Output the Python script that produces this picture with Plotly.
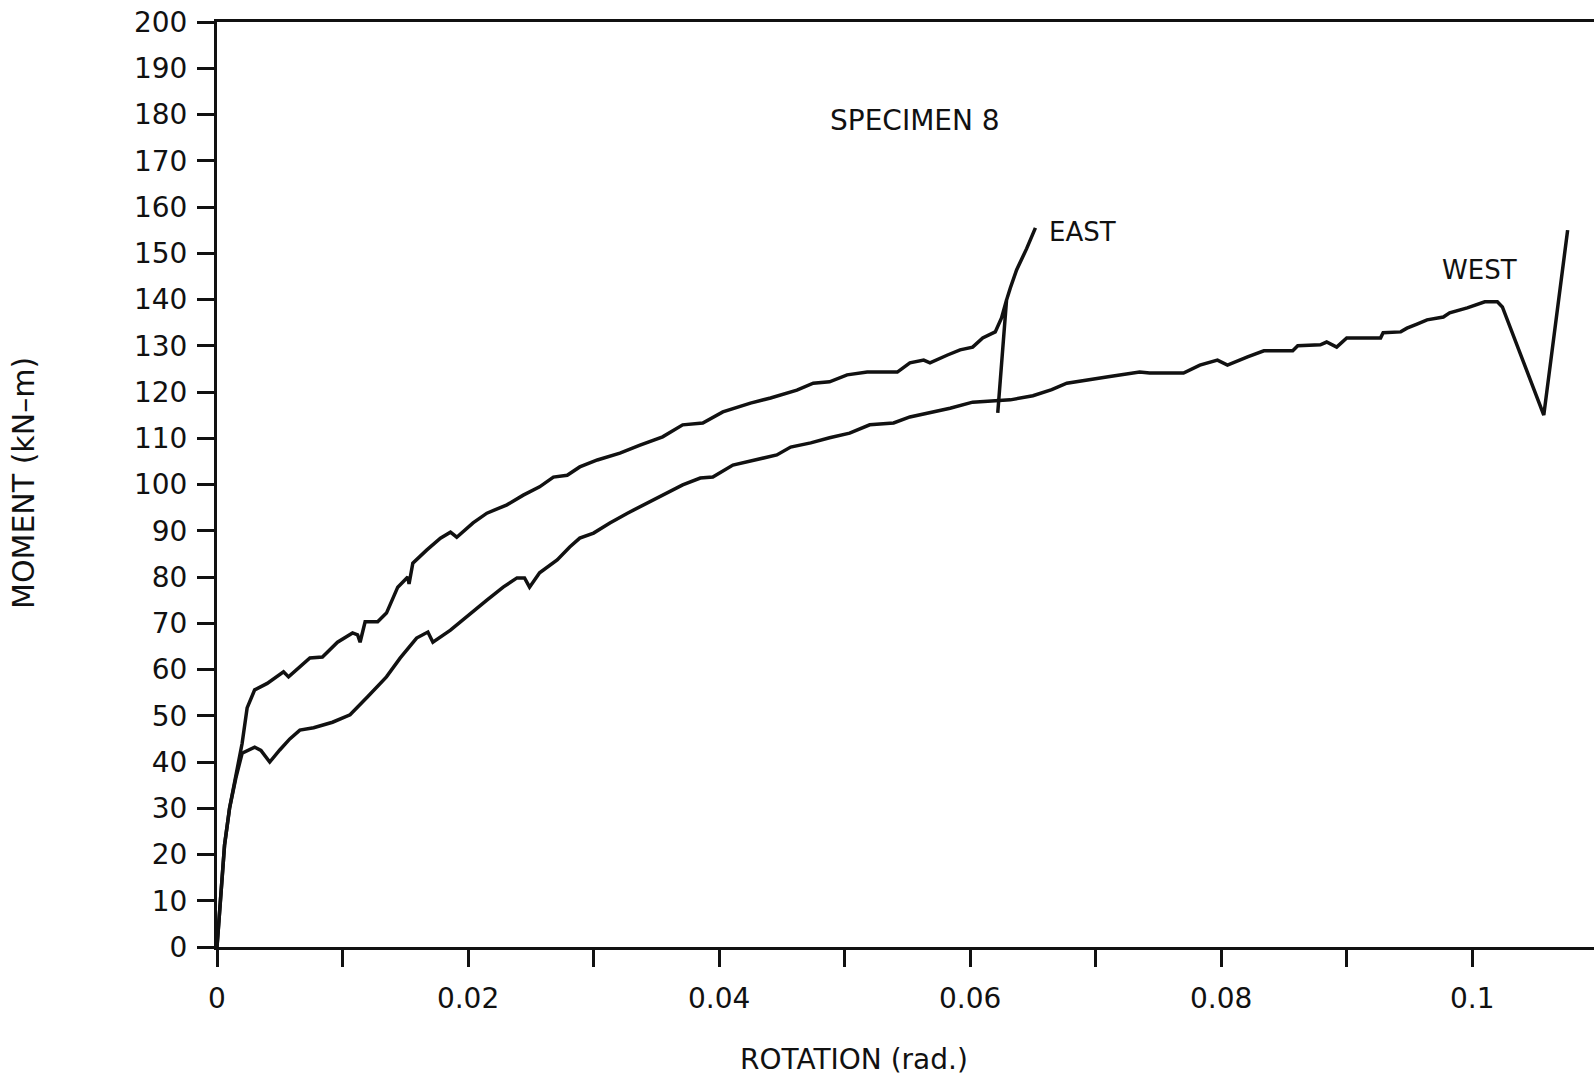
import plotly.graph_objects as go

# ---- data ----
east_rot = [0, 0.0003, 0.0006, 0.001, 0.0015, 0.002, 0.0024, 0.003, 0.004, 0.0053, 0.0057,
            0.0066, 0.0074, 0.0084, 0.0096, 0.0108, 0.0112, 0.0114, 0.0116, 0.0118, 0.0128,
            0.0135, 0.0144, 0.0152, 0.0153, 0.0156, 0.0167, 0.0178, 0.0186, 0.0191, 0.0204,
            0.0215, 0.0231, 0.0244, 0.0257, 0.0268, 0.0279, 0.0289, 0.0303, 0.0321, 0.0337,
            0.0355, 0.0371, 0.0387, 0.0403, 0.0425, 0.0441, 0.0449, 0.0462, 0.0475, 0.0488,
            0.0502, 0.0518, 0.0542, 0.0552, 0.0563, 0.0568, 0.0582, 0.0592, 0.0602, 0.061,
            0.062, 0.0625, 0.0629, 0.0622, 0.0629, 0.0632, 0.0637, 0.0645, 0.0652]
east_mom = [0, 12, 22, 30, 37, 44, 51.7, 55.6, 57, 59.5, 58.4,
            60.5, 62.5, 62.7, 65.9, 67.9, 67.5, 65.9, 68.5, 70.3, 70.3,
            72.2, 77.8, 80, 78.5, 83, 85.8, 88.4, 89.7, 88.6, 91.7,
            93.8, 95.6, 97.7, 99.5, 101.6, 102, 103.8, 105.3, 106.8, 108.5,
            110.3, 112.9, 113.3, 115.7, 117.6, 118.7, 119.4, 120.4, 121.9, 122.2,
            123.7, 124.3, 124.3, 126.3, 126.9, 126.3, 128, 129.1, 129.7, 131.7,
            133, 136, 139.9, 115.5, 139.9, 142.5, 146.4, 151, 155.5]

west_rot = [0, 0.0003, 0.0006, 0.001, 0.0015, 0.002, 0.003, 0.0035, 0.0042, 0.005, 0.0058,
            0.0066, 0.0077, 0.0092, 0.0106, 0.012, 0.0135, 0.0146, 0.0159, 0.0168, 0.0172,
            0.0186, 0.0202, 0.0215, 0.0228, 0.0239, 0.0245, 0.0249, 0.0257, 0.0271, 0.0281,
            0.0289, 0.03, 0.0313, 0.0327, 0.0343, 0.0359, 0.0371, 0.0385, 0.0395, 0.0411,
            0.043, 0.0446, 0.0457, 0.0473, 0.0488, 0.0504, 0.052, 0.0539, 0.0552, 0.0568,
            0.0584, 0.0602, 0.0632, 0.065, 0.0665, 0.0677, 0.069, 0.071, 0.0735, 0.0743,
            0.077, 0.0783, 0.0797, 0.0805, 0.0821, 0.0834, 0.0857, 0.0861, 0.0879, 0.0884,
            0.0892, 0.09, 0.0927, 0.0929, 0.0943, 0.0948, 0.0956, 0.0964, 0.0977, 0.0982,
            0.0996, 0.101, 0.102, 0.1024, 0.1057, 0.1076]
west_mom = [0, 12, 22, 30, 36.5, 41.9, 43.2, 42.5, 40, 42.6, 45,
            46.9, 47.4, 48.6, 50.2, 54.1, 58.4, 62.5, 66.8, 68.1, 65.9,
            68.5, 72.2, 75, 77.8, 79.8, 79.8, 77.8, 80.9, 83.7, 86.5,
            88.4, 89.5, 91.7, 93.8, 96, 98.2, 99.9, 101.4, 101.6, 104.2,
            105.3, 106.4, 108.1, 109, 110.1, 111.1, 112.9, 113.3, 114.6, 115.5,
            116.5, 117.8, 118.3, 119.2, 120.5, 121.9, 122.5, 123.3, 124.3, 124.1,
            124.1, 125.8, 126.9, 125.8, 127.6, 128.9, 128.9, 130, 130.2, 130.8,
            129.7, 131.7, 131.7, 132.8, 133, 133.8, 134.7, 135.6, 136.2, 137.1,
            138.2, 139.5, 139.5, 138.4, 115, 155]

x_tickvals = [0, 0.01, 0.02, 0.03, 0.04, 0.05, 0.06, 0.07, 0.08, 0.09, 0.1, 0.11]
x_ticktext = ["0", "", "0.02", "", "0.04", "", "0.06", "", "0.08", "", "0.1", ""]
y_tickvals = list(range(0, 201, 10))
y_ticktext = [str(v) for v in y_tickvals]

FONT = "DejaVu Sans"
INK = "#111111"

fig = go.Figure()
fig.add_trace(go.Scatter(x=east_rot, y=east_mom, mode="lines", name="EAST",
                         line=dict(color=INK, width=3.5)))
fig.add_trace(go.Scatter(x=west_rot, y=west_mom, mode="lines", name="WEST",
                         line=dict(color=INK, width=3.5)))

fig.update_layout(
    width=1594, height=1080,
    margin=dict(l=217, r=0, t=22, b=133),
    paper_bgcolor="white", plot_bgcolor="white",
    showlegend=False,
    font=dict(family=FONT, color=INK, size=28),
    xaxis=dict(range=[0, 0.1097], tickvals=x_tickvals, ticktext=x_ticktext,
               ticks="outside", ticklen=17, tickwidth=3, tickcolor=INK,
               showline=True, linewidth=3, linecolor=INK, mirror=True,
               showgrid=False, zeroline=False, ticklabelstandoff=7,
               tickfont=dict(family=FONT, size=28, color=INK)),
    yaxis=dict(range=[0, 200], tickvals=y_tickvals, ticktext=y_ticktext,
               ticks="outside", ticklen=17, tickwidth=3, tickcolor=INK,
               showline=True, linewidth=3, linecolor=INK,
               showgrid=False, zeroline=False, ticklabelstandoff=4,
               tickfont=dict(family=FONT, size=28, color=INK)),
    annotations=[
        dict(text="SPECIMEN 8", x=0.0556, y=178.8, xref="x", yref="y",
             showarrow=False, font=dict(family=FONT, size=28, color=INK)),
        dict(text="EAST", x=0.0661, y=154.6, xref="x", yref="y", xanchor="left",
             showarrow=False, font=dict(family=FONT, size=26, color=INK)),
        dict(text="WEST", x=0.1006, y=146.4, xref="x", yref="y",
             showarrow=False, font=dict(family=FONT, size=26, color=INK)),
        dict(text="ROTATION (rad.)", x=0.4626, y=-0.122, xref="paper", yref="paper",
             xanchor="center", yanchor="middle",
             showarrow=False, font=dict(family=FONT, size=28, color=INK)),
        dict(text="MOMENT (kN–m)", x=-0.1409, y=0.5016, xref="paper", yref="paper",
             xanchor="center", yanchor="middle",
             textangle=-90, showarrow=False, font=dict(family=FONT, size=30, color=INK)),
    ],
)

fig.write_html("out.html")
